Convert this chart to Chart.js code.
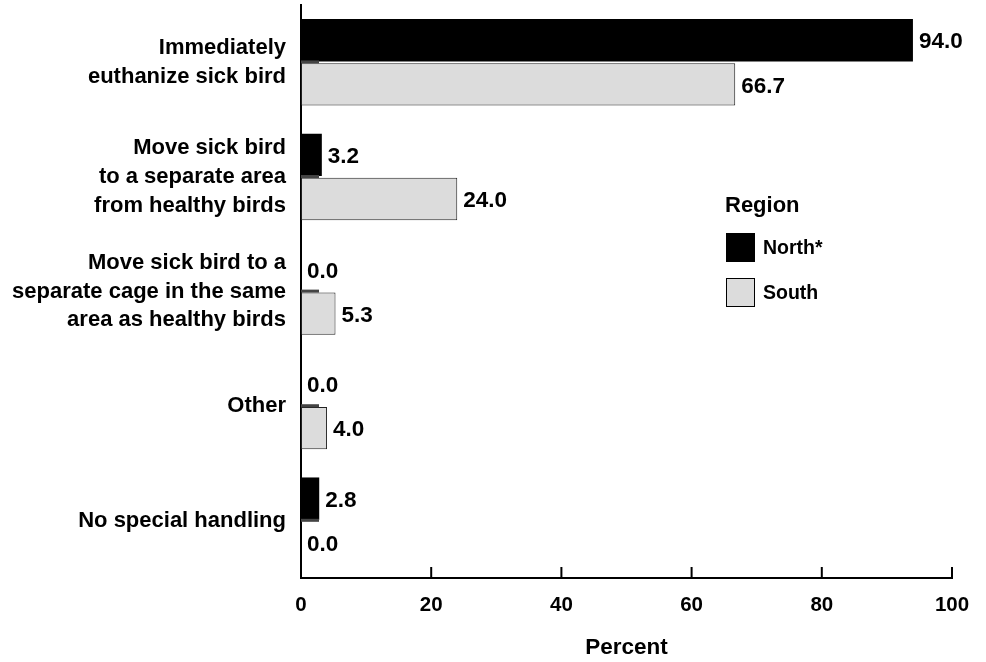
<!DOCTYPE html>
<html>
<head>
<meta charset="utf-8">
<script src="https://cdn.jsdelivr.net/npm/chart.js@4/dist/chart.umd.min.js"></script>
<style>
  html, body { margin: 0; padding: 0; background: #fff; }
  #wrap { width: 986px; height: 662px; }
</style>
</head>
<body>
<div id="wrap"><canvas id="chart"></canvas></div>
<script>
// Données du graphique
const categories = [
    ['Immediately', 'euthanize sick bird'],
    ['Move sick bird', 'to a separate area', 'from healthy birds'],
    ['Move sick bird to a', 'separate cage in the same', 'area as healthy birds'],
    'Other',
    'No special handling'
];
const northValues = [94.0, 3.2, 0.0, 0.0, 2.8];
const southValues = [66.7, 24.0, 5.3, 4.0, 0.0];
const xTicks = [0, 20, 40, 60, 80, 100];

const FONT = '"Liberation Sans", Arial, sans-serif';

// Ticks vers l'intérieur, ombre sous North, valeurs et légende
const extrasPlugin = {
    id: 'extras',
    afterDatasetsDraw(chart) {
        const ctx = chart.ctx;
        const x = chart.scales.x;
        const bottom = chart.chartArea.bottom;
        ctx.save();
        ctx.strokeStyle = '#000';
        ctx.lineWidth = 2;
        xTicks.forEach(v => {
            const px = x.getPixelForValue(v);
            ctx.beginPath();
            ctx.moveTo(px, bottom);
            ctx.lineTo(px, bottom - 11);
            ctx.stroke();
        });
        // ombre sous North
        const meta = chart.getDatasetMeta(0);
        ctx.fillStyle = '#444';
        meta.data.forEach(bar => {
            const y = bar.y + bar.height / 2;
            ctx.fillRect(x.getPixelForValue(0), y - 1, 18, 3);
        });
        // étiquettes de valeurs
        ctx.fillStyle = '#000';
        ctx.font = 'bold 22.5px ' + FONT;
        ctx.textBaseline = 'middle';
        ctx.textAlign = 'left';
        chart.data.datasets.forEach((ds, i) => {
            chart.getDatasetMeta(i).data.forEach((bar, j) => {
                ctx.fillText(ds.data[j].toFixed(1), bar.x + 6, bar.y + 2);
            });
        });
        // légende
        const lx = 726;
        ctx.font = 'bold 22px ' + FONT;
        ctx.fillText('Region', lx - 1, 206);
        chart.data.datasets.forEach((ds, i) => {
            const by = 233 + i * 45;
            ctx.fillStyle = ds.backgroundColor;
            ctx.fillRect(lx, by, 29, 29);
            ctx.strokeStyle = '#000';
            ctx.lineWidth = 1;
            ctx.strokeRect(lx + 0.5, by + 0.5, 28, 28);
            ctx.fillStyle = '#000';
            ctx.font = 'bold 19.5px ' + FONT;
            ctx.fillText(ds.label, lx + 37, by + 16);
        });
        ctx.restore();
    }
};

new Chart(document.getElementById('chart'), {
    type: 'bar',
    data: {
        labels: categories,
        datasets: [{
            label: 'North*',
            data: northValues,
            backgroundColor: '#000000',
            borderColor: '#000000',
            borderWidth: 0,
            categoryPercentage: 0.77,
            barPercentage: 0.96
        }, {
            label: 'South',
            data: southValues,
            backgroundColor: '#dcdcdc',
            borderColor: '#222222',
            borderWidth: 1,
            borderSkipped: false,
            categoryPercentage: 0.77,
            barPercentage: 0.96
        }]
    },
    plugins: [extrasPlugin],
    options: {
        indexAxis: 'y',
        responsive: true,
        maintainAspectRatio: false,
        animation: false,
        layout: { padding: { top: 5, right: 34, bottom: 0, left: 0 } },
        plugins: {
            legend: { display: false },
            tooltip: { enabled: false }
        },
        scales: {
            x: {
                min: 0,
                max: 100,
                afterBuildTicks(scale) {
                    scale.ticks = xTicks.map(v => ({ value: v }));
                },
                afterFit(scale) { scale.height = 84; },
                grid: { display: false },
                border: { display: true, color: '#000', width: 2 },
                ticks: {
                    color: '#000',
                    padding: 7,
                    font: { family: FONT, size: 20.5, weight: 'bold' }
                },
                title: {
                    display: true,
                    text: 'Percent',
                    color: '#000',
                    padding: { top: 10, bottom: 1 },
                    font: { family: FONT, size: 22.5, weight: 'bold' }
                }
            },
            y: {
                afterFit(scale) {
                    scale.width = 301;
                    scale.paddingTop = 0;
                    scale.paddingBottom = 0;
                },
                grid: { display: false },
                border: { display: true, color: '#000', width: 2 },
                ticks: {
                    color: '#000',
                    padding: 7,
                    font: { family: FONT, size: 22, weight: 'bold', lineHeight: 1.3 }
                }
            }
        }
    }
});
</script>
</body>
</html>
